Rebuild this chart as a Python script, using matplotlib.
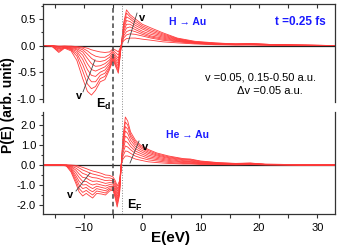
import matplotlib
matplotlib.use("Agg")
import matplotlib.pyplot as plt
from matplotlib.ticker import MultipleLocator, FormatStrFormatter

plt.rcParams['font.family'] = ['Liberation Sans', 'DejaVu Sans']
plt.rcParams['mathtext.fontset'] = 'custom'
plt.rcParams['mathtext.rm'] = 'Liberation Sans'
plt.rcParams['mathtext.bf'] = 'Liberation Sans:bold'

# H -> Au, one curve per velocity (v = 0.05, 0.15 ... 0.50 a.u.)
e_h = [-17, -15.5, -14.3, -13.3, -12.2, -11.2, -10.2, -9.4, -8.7, -8.0, -7.2, -6.4,
       -5.6, -5.0, -4.5, -4.1, -3.6, -3.2, -2.7, -2.1, -1.2, 0, 1.5, 3.5, 6, 9,
       12.5, 16, 18.5, 22, 26, 33]
h_curves = [
    [0, 0, -0.01, -0.01, -0.01, -0.02, -0.03, -0.05, -0.08, -0.10, -0.12, -0.13, -0.12, -0.06, -0.09, -0.12,
     0, 0.09, 0.13, 0.14, 0.14, 0.12, 0.10, 0.07, 0.05, 0.03, 0.015, 0.01, 0.01, 0.005, 0, 0],
    [0, 0, -0.02, -0.01, -0.02, -0.03, -0.05, -0.10, -0.16, -0.20, -0.22, -0.22, -0.17, -0.09, -0.14, -0.18,
     0, 0.14, 0.20, 0.22, 0.21, 0.18, 0.14, 0.10, 0.07, 0.04, 0.02, 0.015, 0.015, 0.01, 0, 0],
    [0, 0, -0.03, -0.02, -0.03, -0.04, -0.08, -0.16, -0.24, -0.29, -0.30, -0.28, -0.22, -0.12, -0.19, -0.24,
     0, 0.18, 0.26, 0.29, 0.26, 0.21, 0.16, 0.12, 0.08, 0.045, 0.025, 0.015, 0.02, 0.01, 0.005, 0],
    [0, 0, -0.04, -0.02, -0.04, -0.06, -0.12, -0.24, -0.34, -0.39, -0.38, -0.34, -0.27, -0.15, -0.23, -0.29,
     0, 0.22, 0.33, 0.35, 0.30, 0.24, 0.18, 0.14, 0.09, 0.05, 0.03, 0.02, 0.02, 0.01, 0.005, 0],
    [0, 0, -0.06, -0.03, -0.05, -0.08, -0.18, -0.34, -0.45, -0.48, -0.44, -0.40, -0.31, -0.18, -0.27, -0.34,
     0, 0.26, 0.40, 0.40, 0.34, 0.27, 0.21, 0.16, 0.10, 0.055, 0.03, 0.02, 0.025, 0.015, 0.005, 0],
    [0, 0, -0.07, -0.03, -0.06, -0.11, -0.26, -0.45, -0.56, -0.58, -0.50, -0.46, -0.35, -0.20, -0.31, -0.39,
     0, 0.30, 0.47, 0.45, 0.38, 0.31, 0.24, 0.18, 0.11, 0.06, 0.035, 0.025, 0.03, 0.015, 0.01, 0],
    [0, -0.01, -0.09, -0.04, -0.07, -0.15, -0.36, -0.58, -0.68, -0.68, -0.56, -0.52, -0.39, -0.23, -0.35, -0.44,
     0, 0.34, 0.54, 0.50, 0.42, 0.34, 0.27, 0.20, 0.12, 0.065, 0.04, 0.03, 0.03, 0.02, 0.01, 0],
    [0, -0.01, -0.11, -0.04, -0.08, -0.20, -0.48, -0.72, -0.81, -0.77, -0.62, -0.58, -0.42, -0.25, -0.38, -0.48,
     0, 0.38, 0.61, 0.54, 0.46, 0.37, 0.30, 0.22, 0.13, 0.07, 0.045, 0.03, 0.035, 0.02, 0.01, 0],
    [0, -0.01, -0.13, -0.05, -0.10, -0.28, -0.62, -0.86, -0.93, -0.84, -0.68, -0.64, -0.45, -0.27, -0.41, -0.52,
     0, 0.42, 0.67, 0.58, 0.50, 0.40, 0.33, 0.24, 0.14, 0.08, 0.05, 0.03, 0.04, 0.02, 0.01, 0],
]

# He -> Au
e_he = [-17, -14, -13, -12.2, -11.4, -10.8, -10.2, -9.6, -9.0, -8.5, -7.8, -7.0, -6.3, -5.6, -5.0,
        -4.6, -4.3, -3.9, -3.6, -3.3, -2.9, -2.5, -2.0, -1.2, -0.3, 1.0, 2.5, 4.5, 7, 8.2, 10,
        13, 16, 18.5, 21, 24, 27, 33]
he_curves = [
    [0, 0, 0, 0, -0.02, -0.06, -0.12, -0.18, -0.25, -0.3, -0.35, -0.42, -0.5, -0.52, -0.6, -0.8, -1.05, -0.8,
     0, 0.3, 0.45, 0.45, 0.4, 0.3, 0.24, 0.16, 0.12, 0.08, 0.05, 0.05, 0.03, 0.02, 0.01, 0.02, 0.01, 0, 0, 0],
    [0, 0, 0, -0.02, -0.06, -0.15, -0.25, -0.32, -0.4, -0.45, -0.5, -0.56, -0.64, -0.64, -0.7, -0.92, -1.2, -0.9,
     0, 0.45, 0.7, 0.68, 0.58, 0.45, 0.36, 0.26, 0.2, 0.13, 0.08, 0.08, 0.05, 0.03, 0.02, 0.03, 0.01, 0.01, 0, 0],
    [0, 0, 0, -0.05, -0.15, -0.28, -0.42, -0.48, -0.58, -0.63, -0.65, -0.72, -0.78, -0.76, -0.8, -1.05, -1.32, -1.0,
     0, 0.6, 0.95, 0.9, 0.76, 0.58, 0.48, 0.34, 0.27, 0.18, 0.12, 0.11, 0.07, 0.05, 0.03, 0.04, 0.02, 0.01, 0, 0],
    [0, 0, -0.01, -0.08, -0.25, -0.45, -0.62, -0.65, -0.76, -0.82, -0.8, -0.86, -0.92, -0.88, -0.9, -1.18, -1.45, -1.1,
     0, 0.75, 1.2, 1.12, 0.92, 0.7, 0.58, 0.42, 0.33, 0.23, 0.15, 0.14, 0.09, 0.06, 0.04, 0.05, 0.02, 0.01, 0, 0],
    [0, 0, -0.01, -0.12, -0.38, -0.63, -0.82, -0.82, -0.94, -1.0, -0.94, -1.0, -1.05, -0.98, -1.0, -1.3, -1.58, -1.18,
     0, 0.88, 1.45, 1.35, 1.08, 0.82, 0.68, 0.5, 0.39, 0.28, 0.18, 0.17, 0.11, 0.07, 0.05, 0.06, 0.03, 0.02, 0.01, 0],
    [0, 0, -0.02, -0.17, -0.52, -0.82, -1.0, -0.98, -1.1, -1.18, -1.06, -1.12, -1.17, -1.07, -1.08, -1.4, -1.7, -1.26,
     0, 1.0, 1.7, 1.58, 1.24, 0.94, 0.77, 0.58, 0.45, 0.33, 0.22, 0.2, 0.13, 0.08, 0.06, 0.07, 0.03, 0.02, 0.01, 0],
    [0, 0, -0.03, -0.22, -0.65, -1.0, -1.18, -1.12, -1.26, -1.34, -1.18, -1.24, -1.29, -1.15, -1.14, -1.5, -1.83, -1.34,
     0, 1.15, 1.92, 1.8, 1.4, 1.05, 0.86, 0.65, 0.5, 0.37, 0.26, 0.24, 0.15, 0.09, 0.06, 0.08, 0.03, 0.02, 0.01, 0],
    [0, 0, -0.04, -0.28, -0.78, -1.18, -1.37, -1.27, -1.4, -1.5, -1.3, -1.35, -1.4, -1.22, -1.2, -1.6, -1.96, -1.42,
     0, 1.28, 2.15, 2.0, 1.52, 1.15, 0.93, 0.72, 0.55, 0.41, 0.29, 0.27, 0.18, 0.11, 0.07, 0.09, 0.04, 0.03, 0.01, 0],
    [0, 0, -0.05, -0.35, -0.9, -1.35, -1.55, -1.42, -1.55, -1.65, -1.42, -1.45, -1.5, -1.3, -1.25, -1.7, -2.1, -1.5,
     0, 1.4, 2.4, 2.2, 1.65, 1.25, 1.0, 0.78, 0.6, 0.45, 0.32, 0.3, 0.2, 0.12, 0.08, 0.1, 0.04, 0.03, 0.01, 0],
]

E_d = -5.0
E_F = -3.5

W, H = 341, 248
fig = plt.figure(figsize=(W / 100, H / 100), dpi=100)
ax1 = fig.add_axes([43 / W, 1 - 102 / H, 292 / W, 98 / H])
ax2 = fig.add_axes([43 / W, 1 - 214 / H, 292 / W, 102 / H])

red = '#ff3b3b'
for ax, e, curves in [(ax1, e_h, h_curves), (ax2, e_he, he_curves)]:
    ax.axhline(0, color='#222222', lw=0.9, zorder=1)
    for c in curves:
        ax.plot(e, c, color=red, lw=0.6, zorder=2)
    ax.set_xlim(-17, 33)
    ax.xaxis.set_major_locator(MultipleLocator(10))
    ax.xaxis.set_minor_locator(MultipleLocator(5))
    ax.yaxis.set_major_formatter(FormatStrFormatter('%.1f'))
    for s in ax.spines.values():
        s.set_color('#333333')
        s.set_linewidth(0.9)
    ax.tick_params(axis='y', which='both', direction='out', right=False, labelsize=8, width=0.8,
                   colors='#333333', labelcolor='black', pad=2)
    ax.tick_params(axis='y', which='major', length=3)
    ax.tick_params(axis='y', which='minor', length=1.5)

ax1.set_ylim(-1.06, 0.78)
ax1.yaxis.set_major_locator(MultipleLocator(0.5))
ax1.yaxis.set_minor_locator(MultipleLocator(0.25))
ax1.spines['bottom'].set_visible(False)
ax1.tick_params(axis='x', which='both', bottom=False, top=True, direction='in', labelbottom=False,
                length=3, width=0.8, colors='#333333')

ax2.set_ylim(-2.45, 2.65)
ax2.yaxis.set_major_locator(MultipleLocator(1.0))
ax2.yaxis.set_minor_locator(MultipleLocator(0.5))
ax2.spines['top'].set_visible(False)
ax2.tick_params(axis='x', which='both', top=False, direction='out', labelsize=8,
                length=3, width=0.8, colors='#333333', labelcolor='black')

# E_d and E_F guide lines running through both panels
ax1.axvline(E_d, ymin=-0.1, ymax=1, color='#444444', lw=1.1, ls=(0, (3, 2)), clip_on=False, zorder=3)
ax2.axvline(E_d, color='#444444', lw=1.1, ls=(0, (3, 2)), zorder=3)
ax1.axvline(E_F, ymin=-0.1, ymax=1, color='#888888', lw=0.7, ls=':', clip_on=False, zorder=3)
ax2.axvline(E_F, color='#888888', lw=0.7, ls=':', zorder=3)

# velocity arrows
ax1.plot([-10.15, -8.1], [-0.87, -0.27], color='#444444', lw=0.6, zorder=4)
ax1.plot([-2.45, -0.9], [0.05, 0.61], color='#444444', lw=0.6, zorder=4)
ax2.plot([-11.35, -8.95], [-1.3, -0.4], color='#444444', lw=0.6, zorder=4)
ax2.plot([-2.1, -0.56], [0.1, 1.2], color='#444444', lw=0.6, zorder=4)


def ftext(x, y, s, **kw):
    fig.text(x / W, 1 - y / H, s, **kw)


ftext(79, 96, 'v', fontsize=8, weight='bold', ha='center', va='center')
ftext(142, 18, 'v', fontsize=8, weight='bold', ha='center', va='center')
ftext(70, 195, 'v', fontsize=8, weight='bold', ha='center', va='center')
ftext(145, 147, 'v', fontsize=8, weight='bold', ha='center', va='center')

ftext(96, 104, r'$\mathbf{E_d}$', fontsize=9, ha='left', va='center')
ftext(127, 205, r'$\mathbf{E_F}$', fontsize=9, ha='left', va='center')

ftext(169, 22, 'H \u2192 Au', fontsize=7.5, weight='bold', color='#1a1aff', ha='left', va='center')
ftext(275, 22, 't =0.25 fs', fontsize=8.5, weight='bold', color='#1a1aff', ha='left', va='center')
ftext(205, 78, 'v =0.05, 0.15-0.50 a.u.', fontsize=8, ha='left', va='center')
ftext(237, 91, '\u0394v =0.05 a.u.', fontsize=8, ha='left', va='center')
ftext(166, 135, 'He \u2192 Au', fontsize=7.5, weight='bold', color='#1a1aff', ha='left', va='center')

ftext(8, 105, 'P(E) (arb. unit)', fontsize=10, weight='bold', rotation=90, ha='center', va='center')
ftext(170, 238, 'E(eV)', fontsize=11, weight='bold', ha='center', va='center')

fig.savefig('out.png', dpi=100)
